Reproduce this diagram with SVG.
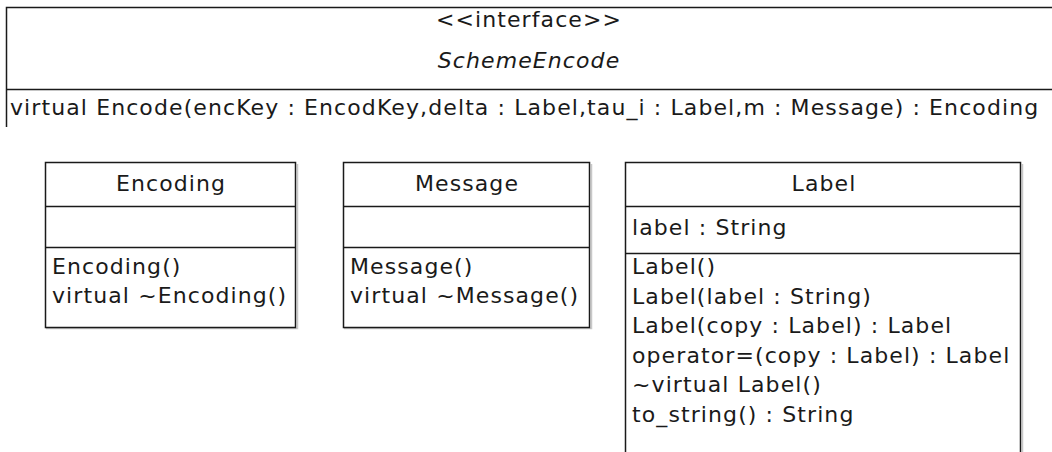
<svg xmlns="http://www.w3.org/2000/svg" width="1052" height="452" viewBox="0 0 1052 452">
  <defs>
    <style>
      .box { fill: #ffffff; stroke: #1a1a1a; stroke-width: 1.5; }
      .sep { stroke: #1a1a1a; stroke-width: 1.5; fill: none; }
      .shadow { fill: none; stroke: #c8c8c8; stroke-width: 1.5; }
      text { font-family: "DejaVu Sans", Verdana, sans-serif; font-size: 22px; letter-spacing: 1.1px; fill: #1a1a1a; }
      .mid { text-anchor: middle; }
      .abs { font-style: italic; }
    </style>
  </defs>
  <rect width="1052" height="452" fill="#ffffff"/>

  <!-- interface SchemeEncode (runs past the right edge) -->
  <g id="SchemeEncode">
    <path class="sep" d="M1052 7.5 H6.5 V127"/>
    <line class="sep" x1="6.5" y1="89.5" x2="1052" y2="89.5"/>
    <text class="mid" x="529" y="27">&lt;&lt;interface&gt;&gt;</text>
    <text class="mid abs" x="529" y="68">SchemeEncode</text>
    <text x="10" y="115">virtual Encode(encKey : EncodKey,delta : Label,tau_i : Label,m : Message) : Encoding</text>
  </g>

  <!-- class Encoding -->
  <g id="Encoding">
    <path class="shadow" d="M297.5 164 V328.5 H46"/>
    <rect class="box" x="45.5" y="162.5" width="250" height="165"/>
    <line class="sep" x1="45.5" y1="206.5" x2="295.5" y2="206.5"/>
    <line class="sep" x1="45.5" y1="247.5" x2="295.5" y2="247.5"/>
    <text class="mid" x="171" y="191">Encoding</text>
    <text x="52" y="274">Encoding()</text>
    <text x="52" y="303">virtual ~Encoding()</text>
  </g>

  <!-- class Message -->
  <g id="Message">
    <path class="shadow" d="M591.5 164 V328.5 H344"/>
    <rect class="box" x="343.5" y="162.5" width="246" height="165"/>
    <line class="sep" x1="343.5" y1="206.5" x2="589.5" y2="206.5"/>
    <line class="sep" x1="343.5" y1="247.5" x2="589.5" y2="247.5"/>
    <text class="mid" x="467" y="191">Message</text>
    <text x="350" y="274">Message()</text>
    <text x="350" y="303">virtual ~Message()</text>
  </g>

  <!-- class Label (runs past the bottom edge) -->
  <g id="Label">
    <path class="shadow" d="M1022.5 164 V460"/>
    <rect class="box" x="625.5" y="162.5" width="395" height="300"/>
    <line class="sep" x1="625.5" y1="206.5" x2="1020.5" y2="206.5"/>
    <line class="sep" x1="625.5" y1="253.5" x2="1020.5" y2="253.5"/>
    <text class="mid" x="824" y="191">Label</text>
    <text x="632" y="235">label : String</text>
    <text x="632" y="274">Label()</text>
    <text x="632" y="304">Label(label : String)</text>
    <text x="632" y="333">Label(copy : Label) : Label</text>
    <text x="632" y="363">operator=(copy : Label) : Label</text>
    <text x="632" y="392">~virtual Label()</text>
    <text x="632" y="422">to_string() : String</text>
  </g>

  <!-- no associations are drawn between these classes -->
  <g id="connectors"/>
</svg>
